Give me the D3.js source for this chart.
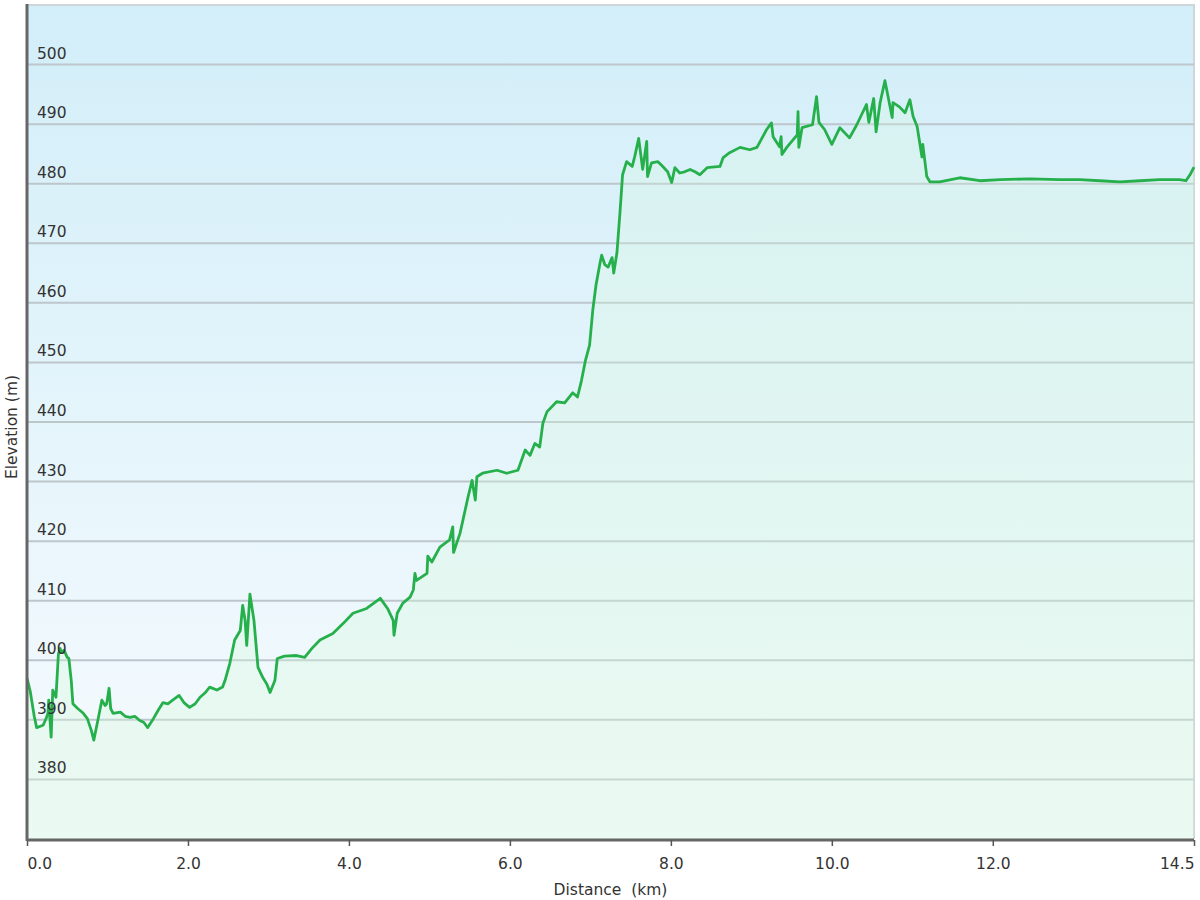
<!DOCTYPE html>
<html>
<head>
<meta charset="utf-8">
<script src="https://cdn.jsdelivr.net/npm/d3@7"></script>
<style>
  html, body { margin: 0; padding: 0; background: #ffffff; }
  svg { display: block; }
  text { font-family: "DejaVu Sans", Verdana, sans-serif; fill: #333; }
</style>
</head>
<body>
<div id="chart"></div>
<script>
// ---- Data: distance (km) and elevation (m) ----
const distanceKm = [
  0.00, 0.04, 0.09, 0.12, 0.20, 0.24, 0.26, 0.27, 0.30, 0.32,
  0.36, 0.39, 0.41, 0.43, 0.46, 0.50, 0.52, 0.55, 0.57, 0.63,
  0.70, 0.75, 0.80, 0.83, 0.88, 0.93, 0.97, 0.99, 1.02, 1.04,
  1.07, 1.16, 1.22, 1.28, 1.34, 1.40, 1.45, 1.50, 1.57, 1.63,
  1.69, 1.75, 1.81, 1.89, 1.95, 2.02, 2.09, 2.15, 2.21, 2.27,
  2.36, 2.43, 2.46, 2.52, 2.58, 2.65, 2.68, 2.71, 2.73, 2.77,
  2.82, 2.87, 2.93, 2.98, 3.02, 3.08, 3.11, 3.20, 3.35, 3.45,
  3.54, 3.64, 3.80, 3.93, 4.05, 4.22, 4.39, 4.48, 4.55, 4.56,
  4.60, 4.67, 4.76, 4.80, 4.82, 4.84, 4.97, 4.98, 5.03, 5.13,
  5.25, 5.29, 5.30, 5.38, 5.48, 5.53, 5.57, 5.59, 5.66, 5.84,
  5.96, 6.10, 6.19, 6.25, 6.31, 6.37, 6.41, 6.46, 6.58, 6.68,
  6.78, 6.84, 6.89, 6.94, 6.99, 7.03, 7.07, 7.12, 7.14, 7.18,
  7.22, 7.27, 7.29, 7.33, 7.37, 7.40, 7.45, 7.52, 7.55, 7.60,
  7.65, 7.70, 7.71, 7.76, 7.84, 7.90, 7.96, 8.01, 8.05, 8.11,
  8.17, 8.24, 8.30, 8.36, 8.45, 8.61, 8.65, 8.73, 8.86, 8.98,
  9.07, 9.19, 9.25, 9.27, 9.35, 9.37, 9.38, 9.44, 9.52, 9.57,
  9.58, 9.59, 9.63, 9.76, 9.81, 9.84, 9.91, 10.00, 10.10, 10.22,
  10.31, 10.43, 10.46, 10.52, 10.55, 10.60, 10.66, 10.75, 10.76, 10.84,
  10.91, 10.97, 11.01, 11.06, 11.12, 11.13, 11.18, 11.22, 11.34, 11.59,
  11.84, 12.09, 12.46, 12.83, 13.08, 13.33, 13.58, 13.83, 14.07, 14.32,
  14.40, 14.45, 14.50
];
const elevationM = [
  397.0, 394.8, 390.6, 388.7, 389.1, 390.3, 391.1, 393.3, 387.1, 395.0,
  393.8, 401.0, 402.0, 401.3, 401.7, 400.5, 400.3, 396.6, 392.7, 391.9,
  391.1, 390.2, 388.2, 386.6, 389.9, 393.3, 392.4, 392.7, 395.3, 391.9,
  391.1, 391.3, 390.6, 390.4, 390.6, 389.9, 389.6, 388.7, 390.2, 391.6,
  392.9, 392.7, 393.3, 394.1, 392.9, 392.1, 392.7, 393.8, 394.5, 395.5,
  395.0, 395.5, 396.6, 399.5, 403.4, 405.0, 409.2, 406.7, 402.5, 411.1,
  406.7, 398.8, 397.1, 396.0, 394.6, 396.6, 400.3, 400.7, 400.8, 400.5,
  402.0, 403.4, 404.5, 406.2, 407.9, 408.7, 410.4, 408.7, 406.7, 404.2,
  407.9, 409.6, 410.6, 411.8, 414.6, 413.4, 414.6, 417.5, 416.5, 419.0,
  420.2, 422.4, 418.1, 421.3, 427.4, 430.2, 426.9, 430.8, 431.4, 431.9,
  431.4, 431.9, 435.3, 434.4, 436.4, 435.8, 439.8, 441.7, 443.4, 443.2,
  444.9, 444.2, 447.0, 450.4, 452.9, 458.8, 463.0, 466.7, 468.0, 466.4,
  466.0, 467.6, 465.0, 468.4, 475.6, 481.5, 483.7, 482.9, 484.5, 487.6,
  482.4, 487.1, 481.2, 483.5, 483.7, 482.9, 482.0, 480.2, 482.7, 481.8,
  482.0, 482.4, 482.0, 481.5, 482.7, 482.9, 484.4, 485.2, 486.1, 485.7,
  486.1, 489.1, 490.2, 487.9, 486.2, 487.9, 484.9, 486.1, 487.4, 488.2,
  492.1, 486.1, 489.4, 489.9, 494.6, 490.3, 489.1, 486.6, 489.4, 487.7,
  489.9, 493.3, 490.3, 494.3, 488.7, 493.6, 497.3, 491.1, 493.6, 492.9,
  491.9, 494.1, 491.3, 489.6, 484.5, 486.6, 481.2, 480.3, 480.3, 481.0,
  480.5, 480.7, 480.8, 480.7, 480.7, 480.5, 480.3, 480.5, 480.7, 480.7,
  480.5, 481.5, 482.8
];

const xTickValues = [0, 2, 4, 6, 8, 10, 12, 14.5];
const yTickValues = [380, 390, 400, 410, 420, 430, 440, 450, 460, 470, 480, 490, 500];

const profile = distanceKm.map((d, i) => ({ d, e: elevationM[i] }));

// ---- Layout ----
const W = 1200, H = 900;
const plot = { left: 27, right: 1194, top: 5, bottom: 839 };

const svg = d3.select("#chart").append("svg").attr("width", W).attr("height", H);
const defs = svg.append("defs");

const bg = defs.append("linearGradient").attr("id", "bg").attr("x1", 0).attr("y1", 0).attr("x2", 0).attr("y2", 1);
bg.append("stop").attr("offset", "0%").attr("stop-color", "#d2eef9");
bg.append("stop").attr("offset", "100%").attr("stop-color", "#f7fbfe");

const ag = defs.append("linearGradient").attr("id", "areaGrad").attr("gradientUnits", "userSpaceOnUse")
  .attr("x1", 0).attr("y1", plot.top).attr("x2", 0).attr("y2", plot.bottom);
ag.append("stop").attr("offset", "0%").attr("stop-color", "#d8f8dc").attr("stop-opacity", 0.25);
ag.append("stop").attr("offset", "100%").attr("stop-color", "#d4f8da").attr("stop-opacity", 0.35);

const x = d3.scaleLinear().domain([0, 14.5]).range([plot.left, plot.right]);
const y = d3.scaleLinear().domain([370, 510]).range([plot.bottom, plot.top]);

// background
svg.append("rect").attr("x", plot.left).attr("y", plot.top)
  .attr("width", plot.right - plot.left).attr("height", plot.bottom - plot.top)
  .attr("fill", "url(#bg)");

// top/right border
svg.append("path")
  .attr("d", `M${plot.left},${plot.top}H${plot.right}V${plot.bottom}`)
  .attr("fill", "none").attr("stroke", "#cfd6da").attr("stroke-width", 2);

// gridlines
svg.append("g").selectAll("line").data(yTickValues).join("line")
  .attr("x1", plot.left).attr("x2", plot.right)
  .attr("y1", d => y(d)).attr("y2", d => y(d))
  .attr("stroke", "#bcc6cb").attr("stroke-width", 2);

// area
const area = d3.area().x(p => x(p.d)).y0(plot.bottom).y1(p => y(p.e));
svg.append("path").datum(profile).attr("d", area).attr("fill", "url(#areaGrad)");

// line
const line = d3.line().x(p => x(p.d)).y(p => y(p.e));
svg.append("path").datum(profile).attr("d", line)
  .attr("fill", "none").attr("stroke", "#26b04c").attr("stroke-width", 2.8)
  .attr("stroke-linejoin", "round");

// y labels (inside plot)
svg.append("g").selectAll("text").data(yTickValues).join("text")
  .attr("x", plot.left + 10).attr("y", d => y(d) - 6)
  .attr("font-size", 15.5).text(d => d);

// x axis
const xAxis = d3.axisBottom(x).tickValues(xTickValues).tickSize(6).tickFormat(d3.format(".1f"));
const gx = svg.append("g").attr("transform", `translate(0,${plot.bottom + 1})`).call(xAxis);
gx.select(".domain").attr("stroke", "#666").attr("stroke-width", 3).attr("d", `M${plot.left},0H${plot.right}`);
gx.selectAll(".tick line").attr("stroke", "#555").attr("stroke-width", 1.5);
gx.selectAll(".tick text").attr("font-size", 15.5).attr("fill", "#333").attr("dy", "1.3em")
  .attr("font-family", "DejaVu Sans, Verdana, sans-serif")
  .attr("text-anchor", (d, i, n) => i === 0 ? "start" : (i === n.length - 1 ? "end" : "middle"));

// y axis line
svg.append("line").attr("x1", plot.left).attr("x2", plot.left)
  .attr("y1", plot.top - 1).attr("y2", plot.bottom + 2)
  .attr("stroke", "#666").attr("stroke-width", 3);

// axis titles
svg.append("text").attr("x", (plot.left + plot.right) / 2).attr("y", 895)
  .attr("text-anchor", "middle").attr("font-size", 15.5)
  .text("Distance\u00a0\u00a0(km)");
svg.append("text").attr("transform", `translate(17,${(plot.top + plot.bottom) / 2 + 5}) rotate(-90)`)
  .attr("text-anchor", "middle").attr("font-size", 15.5)
  .text("Elevation (m)");
</script>
</body>
</html>
